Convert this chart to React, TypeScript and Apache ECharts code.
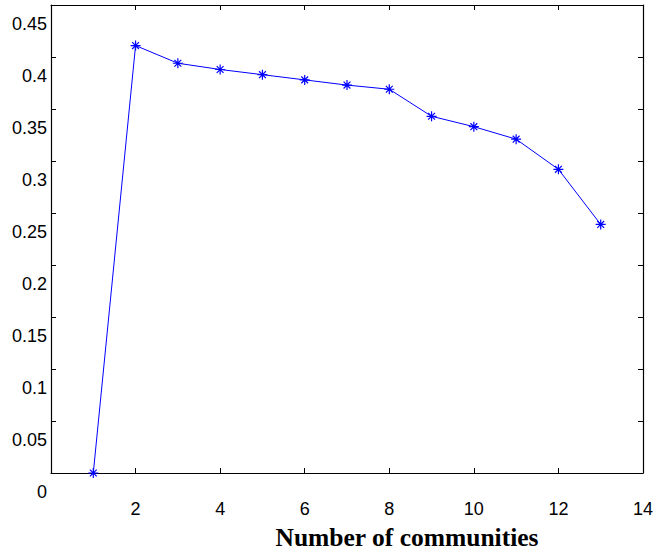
import React, { useEffect, useRef } from "react";
import * as echarts from "echarts";

const communities = [1, 2, 3, 4, 5, 6, 7, 8, 9, 10, 11, 12, 13];
const modularity = [0, 0.411, 0.394, 0.388, 0.383, 0.378, 0.373, 0.369, 0.343, 0.333, 0.321, 0.292, 0.239];
const xTitle = "Number of communities";

const ASTERISK = "path://M5 0L5 10M0 5L10 5M1.6 1.6L8.4 8.4M1.6 8.4L8.4 1.6";

export default function App() {
  const ref = useRef<HTMLDivElement>(null);
  useEffect(() => {
    if (!ref.current) return;
    const chart = echarts.init(ref.current, null, { renderer: "svg" });
    const labelFont = { fontFamily: "Liberation Sans, Arial, sans-serif", fontSize: 18, color: "#000" };
    const tick = { show: true, inside: true, length: 5, lineStyle: { color: "#000", width: 1 } };
    const line = { show: true, onZero: false, lineStyle: { color: "#000", width: 1.2 } };
    chart.setOption({
      animation: false,
      backgroundColor: "#fff",
      grid: { left: 51, right: 10, top: 5, bottom: 78, containLabel: false },
      xAxis: [
        {
          type: "value", min: 0, max: 14, interval: 2, position: "bottom",
          axisLine: line, axisTick: tick, splitLine: { show: false },
          axisLabel: { ...labelFont, margin: 27, formatter: (v: number) => (v === 0 ? "" : String(v)) },
        },
        {
          type: "value", min: 0, max: 14, interval: 2, position: "top",
          axisLine: line, axisTick: tick, splitLine: { show: false }, axisLabel: { show: false },
        },
      ],
      yAxis: [
        {
          type: "value", min: 0, max: 0.45, interval: 0.05, position: "left",
          axisLine: line, axisTick: tick, splitLine: { show: false },
          axisLabel: {
            ...labelFont, margin: 4, verticalAlign: "top", lineHeight: 38,
            formatter: (v: number) => String(Math.round(v * 100) / 100),
          },
        },
        {
          type: "value", min: 0, max: 0.45, interval: 0.05, position: "right",
          axisLine: line, axisTick: tick, splitLine: { show: false }, axisLabel: { show: false },
        },
      ],
      graphic: [
        {
          type: "text", x: 407, y: 537,
          style: {
            text: xTitle, fontFamily: "Liberation Serif, Times New Roman, serif", fontWeight: "bold",
            fontSize: 25.5, fill: "#000", align: "center", verticalAlign: "middle",
          },
        },
      ],
      series: [
        {
          type: "line",
          data: communities.map((c, i) => [c, modularity[i]]),
          symbol: ASTERISK, symbolSize: 10,
          lineStyle: { color: "#0000ff", width: 1 },
          itemStyle: { color: "transparent", borderColor: "#0000ff", borderWidth: 1.2 },
          clip: false,
        },
      ],
    });
    return () => chart.dispose();
  }, []);
  return <div ref={ref} style={{ position: "fixed", left: 0, top: 0, width: 656, height: 551 }} />;
}
